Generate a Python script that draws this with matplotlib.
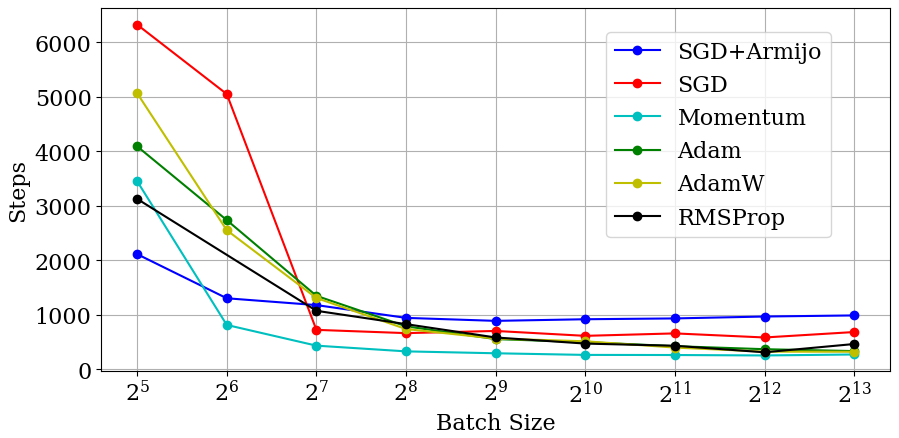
import matplotlib
matplotlib.use("Agg")
import matplotlib.pyplot as plt

plt.rcParams["font.family"] = "DejaVu Serif"
plt.rcParams["mathtext.fontset"] = "dejavuserif"

batch_sizes = [32, 64, 128, 256, 512, 1024, 2048, 4096, 8192]

sgd_armijo = [2110, 1300, 1175, 940, 885, 915, 930, 965, 985]
sgd = [6325, 5050, 720, 660, 700, 610, 655, 580, 680]
momentum = [3450, 810, 430, 325, 290, 260, 258, 250, 268]
adam = [4090, 2735, 1345, 785, 550, 495, 420, 365, 330]
adamw = [5065, 2550, 1305, 735, 560, 510, 395, 320, 318]
# RMSProp has no run at 2^6
rmsprop_bs = [32, 128, 256, 512, 1024, 2048, 4096, 8192]
rmsprop = [3125, 1070, 825, 580, 468, 428, 308, 460]

series = [
    ("SGD+Armijo", batch_sizes, sgd_armijo, "b"),
    ("SGD", batch_sizes, sgd, "r"),
    ("Momentum", batch_sizes, momentum, "c"),
    ("Adam", batch_sizes, adam, "g"),
    ("AdamW", batch_sizes, adamw, "y"),
    ("RMSProp", rmsprop_bs, rmsprop, "k"),
]

fig = plt.figure(figsize=(8.99, 4.39), dpi=100)
ax = fig.add_axes([101.3 / 899, 1 - 371.7 / 439, 788.7 / 899, 362.4 / 439])

for label, xs, ys, color in series:
    ax.plot(xs, ys, marker="o", color=color, label=label)

ax.set_xscale("log", base=2)
ax.set_xticks(batch_sizes)
ax.set_ylim(-30, 6625)
ax.grid(True)
ax.tick_params(labelsize=16)
ax.set_xlabel("Batch Size", fontsize=16)
ax.set_ylabel("Steps", fontsize=16)
ax.legend(fontsize=16, loc="upper right", bbox_to_anchor=(0.939, 0.965))

fig.savefig("out.png", dpi=100)
